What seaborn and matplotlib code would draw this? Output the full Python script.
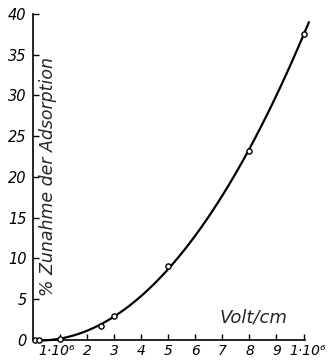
import numpy as np
import pandas as pd
import seaborn as sns
import matplotlib.pyplot as plt
import matplotlib.transforms as mtransforms

# Field strength (in units of 10^6 V/cm) and percentage increase of adsorption
field = [0.05, 0.2, 1.0, 2.5, 3.0, 5.0, 8.0, 10.0]
increase = [0.0, 0.0, 0.1, 1.7, 2.9, 9.1, 23.2, 37.5]

x_ticks = [1, 2, 3, 4, 5, 6, 7, 8, 9, 10]
x_labels = ["1·10⁶", "2", "3", "4", "5", "6", "7", "8", "9", "1·10⁶"]
y_ticks = [0, 5, 10, 15, 20, 25, 30, 35, 40]
y_labels = ["0", "5", "10", "15", "20", "25", "30", "35", "40"]

df = pd.DataFrame({"field": field, "increase": increase})

sns.set_style("white")
plt.rcParams["font.family"] = ["DejaVu Sans"]

fig = plt.figure(figsize=(3.31, 3.64), dpi=100)
ax = fig.add_axes([0.101, 0.066, 0.820, 0.896])

# the fitted curve runs a little past the end of the axis line
ax.set_xlim(0, 10.2)
ax.set_ylim(0, 40)

sns.regplot(data=df, x="field", y="increase", order=3, ci=None, scatter=False,
            truncate=False, ax=ax,
            line_kws=dict(color="black", lw=1.6, solid_capstyle="round"))
ax.lines[-1].set_clip_on(False)

# measured points as open circles
sns.scatterplot(data=df, x="field", y="increase", ax=ax, marker="o", s=14,
                facecolor="white", edgecolor="black", linewidth=1.0,
                zorder=5, clip_on=False)

ax.set_xlim(0, 10.05)
ax.set_ylim(0, 40)

for side in ("top", "right"):
    ax.spines[side].set_visible(False)
for side in ("left", "bottom"):
    ax.spines[side].set_color("black")
    ax.spines[side].set_linewidth(1.2)

ax.set_xticks(x_ticks)
ax.set_xticklabels(x_labels, fontstyle="italic", fontsize=10)
ax.set_yticks(y_ticks)
ax.set_yticklabels(y_labels, fontstyle="italic", fontsize=10.5)
ax.tick_params(axis="both", direction="in", length=4, width=1.0,
               colors="black", left=True, bottom=True)
ax.tick_params(axis="y", pad=5)
ax.tick_params(axis="x", pad=3)

# nudge the two long end labels outward
xt = ax.xaxis.get_major_ticks()
for tick, dx in ((xt[0], -4), (xt[-1], 4)):
    lab = tick.label1
    lab.set_transform(lab.get_transform()
                      + mtransforms.ScaledTranslation(dx / 100, 0, fig.dpi_scale_trans))

ax.set_ylabel("% Zunahme der Adsorption", fontstyle="italic", fontsize=12.5,
              va="center")
ax.yaxis.set_label_coords(0.055, 0.5)
ax.set_xlabel("Volt/cm", fontstyle="italic", fontsize=13, va="center")
ax.xaxis.set_label_coords(0.81, 0.068)

fig.savefig("out.png", dpi=100, facecolor="white")
